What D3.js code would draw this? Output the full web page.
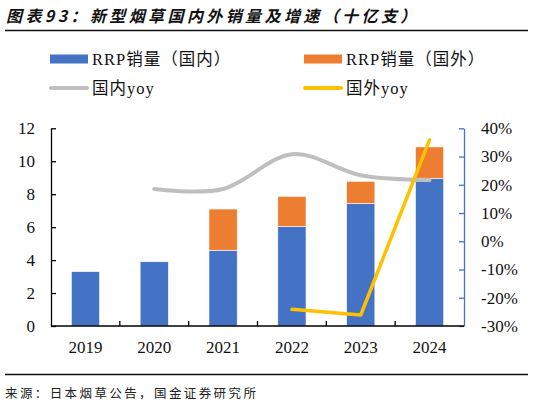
<!DOCTYPE html>
<html>
<head>
<meta charset="utf-8">
<script src="https://cdn.jsdelivr.net/npm/d3@7"></script>
<style>
  html, body { margin: 0; padding: 0; background: #fff; }
  svg { display: block; }
</style>
</head>
<body>
<div id="chart"></div>
<script>
// RRP volumes (billion sticks) with domestic / overseas growth lines

const years = ['2019', '2020', '2021', '2022', '2023', '2024'];
const domestic = [3.3, 3.9, 4.6, 6.03, 7.43, 8.95];
const overseas = [0, 0, 2.5, 1.84, 1.35, 1.92];
const domesticYoy = [null, 18.5, 18.5, 30.8, 23.4, 21.7];
const overseasYoy = [null, null, null, -24.1, -26.1, 35.9];
const leftTicks = [0, 2, 4, 6, 8, 10, 12];
const rightTicks = [-30, -20, -10, 0, 10, 20, 30, 40];

const WIDTH = 537;
const HEIGHT = 405;
const SERIF = '"Liberation Serif", "Times New Roman", "Noto Sans CJK SC", serif';
const CJK = '"Liberation Serif", "Noto Sans CJK SC", sans-serif';

const plot = { left: 51, right: 464, top: 128.3, bottom: 326 };

const svg = d3.select('#chart').append('svg')
  .attr('width', WIDTH)
  .attr('height', HEIGHT);

// title + rules
svg.append('text')
  .attr('x', 6)
  .attr('y', 22)
  .attr('font-family', '"Noto Sans CJK SC", sans-serif')
  .attr('font-size', 16)
  .attr('font-weight', 'bold')
  .attr('font-style', 'italic')
  .attr('letter-spacing', 3.4)
  .attr('fill', '#111')
  .text('图表93：新型烟草国内外销量及增速（十亿支）');

svg.append('line')
  .attr('x1', 5).attr('x2', 528)
  .attr('y1', 30.5).attr('y2', 30.5)
  .attr('stroke', '#111').attr('stroke-width', 1.5);

svg.append('line')
  .attr('x1', 5).attr('x2', 528)
  .attr('y1', 374.5).attr('y2', 374.5)
  .attr('stroke', '#111').attr('stroke-width', 1.5);

svg.append('text')
  .attr('x', 5)
  .attr('y', 398)
  .attr('font-family', '"Noto Sans CJK SC", sans-serif')
  .attr('font-size', 12.5)
  .attr('letter-spacing', 2.4)
  .attr('fill', '#222')
  .text('来源：日本烟草公告，国金证券研究所');

// scales
const x = d3.scaleBand()
  .domain(years)
  .range([plot.left, plot.right])
  .paddingInner(0.59)
  .paddingOuter(0.295);

const xBand = d3.scaleBand()
  .domain(years)
  .range([plot.left, plot.right]);

const yLeft = d3.scaleLinear()
  .domain([0, 12])
  .range([plot.bottom, plot.top]);

const yRight = d3.scaleLinear()
  .domain([-30, 40])
  .range([plot.bottom, plot.top]);

// bars
const stacked = d3.stack()
  .keys(['domestic', 'overseas'])(years.map((y, i) => ({
    year: y, domestic: domestic[i], overseas: overseas[i]
  })));

const barColors = { domestic: '#4472C4', overseas: '#ED7D31' };

svg.append('g')
  .selectAll('g')
  .data(stacked)
  .enter()
  .append('g')
  .attr('fill', d => barColors[d.key])
  .selectAll('rect')
  .data(d => d.filter(p => p[1] - p[0] > 0))
  .enter()
  .append('rect')
  .attr('x', d => x(d.data.year))
  .attr('width', x.bandwidth())
  .attr('y', d => yLeft(d[1]))
  .attr('height', d => yLeft(d[0]) - yLeft(d[1]))
  .attr('stroke', '#fff')
  .attr('stroke-width', 0.6);

// lines
const cx = y => xBand(y) + xBand.bandwidth() / 2;

const greyLine = d3.line()
  .defined(d => d[1] !== null)
  .x(d => cx(d[0]))
  .y(d => yRight(d[1]))
  .curve(d3.curveCatmullRom.alpha(0));

svg.append('path')
  .datum(years.map((y, i) => [y, domesticYoy[i]]))
  .attr('d', greyLine)
  .attr('fill', 'none')
  .attr('stroke', '#BFBFBF')
  .attr('stroke-width', 4)
  .attr('stroke-linecap', 'round');

const yellowLine = d3.line()
  .defined(d => d[1] !== null)
  .x(d => cx(d[0]))
  .y(d => yRight(d[1]));

svg.append('path')
  .datum(years.map((y, i) => [y, overseasYoy[i]]))
  .attr('d', yellowLine)
  .attr('fill', 'none')
  .attr('stroke', '#FFC000')
  .attr('stroke-width', 3.5)
  .attr('stroke-linecap', 'round')
  .attr('stroke-linejoin', 'round');

// axes
const leftAxis = svg.append('g')
  .attr('transform', `translate(${plot.left},0)`)
  .call(d3.axisLeft(yLeft).tickValues(leftTicks).tickSizeInner(-5).tickSizeOuter(0).tickPadding(16));
leftAxis.select('.domain').attr('stroke', '#000').attr('stroke-width', 1.3);
leftAxis.selectAll('.tick line').attr('stroke', '#000').attr('stroke-width', 1.3);
leftAxis.selectAll('text')
  .attr('font-family', SERIF).attr('font-size', 17).attr('fill', '#111');

const rightAxis = svg.append('g')
  .attr('transform', `translate(${plot.right},0)`)
  .call(d3.axisRight(yRight).tickValues(rightTicks).tickFormat(d => d + '%')
    .tickSizeInner(-5).tickSizeOuter(0).tickPadding(17));
rightAxis.select('.domain').attr('stroke', '#4472C4').attr('stroke-width', 1.3);
rightAxis.selectAll('.tick line').attr('stroke', '#4472C4').attr('stroke-width', 1.3);
rightAxis.selectAll('text')
  .attr('font-family', SERIF).attr('font-size', 17).attr('fill', '#111');

const bottomAxis = svg.append('g')
  .attr('transform', `translate(0,${plot.bottom})`)
  .call(d3.axisBottom(xBand).tickSize(0).tickPadding(15));
bottomAxis.select('.domain').remove();
bottomAxis.selectAll('text')
  .attr('font-family', SERIF).attr('font-size', 17).attr('fill', '#111');

svg.append('line')
  .attr('x1', plot.left).attr('x2', plot.right)
  .attr('y1', plot.bottom).attr('y2', plot.bottom)
  .attr('stroke', '#000').attr('stroke-width', 1.3);

// category boundary ticks pointing up
svg.append('g')
  .selectAll('line')
  .data(years.slice(1))
  .enter()
  .append('line')
  .attr('x1', d => xBand(d)).attr('x2', d => xBand(d))
  .attr('y1', plot.bottom).attr('y2', plot.bottom - 5)
  .attr('stroke', '#000').attr('stroke-width', 1.3);

// legend
const legendItems = [
  { label: 'RRP销量（国内）', color: '#4472C4', type: 'bar', lx: 50, ly: 59 },
  { label: 'RRP销量（国外）', color: '#ED7D31', type: 'bar', lx: 304, ly: 59 },
  { label: '国内yoy', color: '#BFBFBF', type: 'line', lx: 50, ly: 88 },
  { label: '国外yoy', color: '#FFC000', type: 'line', lx: 304, ly: 88 },
];

const legend = svg.append('g')
  .selectAll('g')
  .data(legendItems)
  .enter()
  .append('g')
  .attr('transform', d => `translate(${d.lx},${d.ly})`);

legend.filter(d => d.type === 'bar')
  .append('rect')
  .attr('x', 0).attr('y', -4.5)
  .attr('width', 38).attr('height', 9)
  .attr('fill', d => d.color);

legend.filter(d => d.type === 'line')
  .append('line')
  .attr('x1', 1).attr('x2', 37)
  .attr('y1', 0).attr('y2', 0)
  .attr('stroke', d => d.color)
  .attr('stroke-width', 4)
  .attr('stroke-linecap', 'round');

legend.append('text')
  .attr('x', 42)
  .attr('y', 6)
  .attr('font-family', CJK)
  .attr('font-size', 16.5)
  .attr('letter-spacing', 1)
  .attr('fill', '#111')
  .text(d => d.label);
</script>
</body>
</html>
